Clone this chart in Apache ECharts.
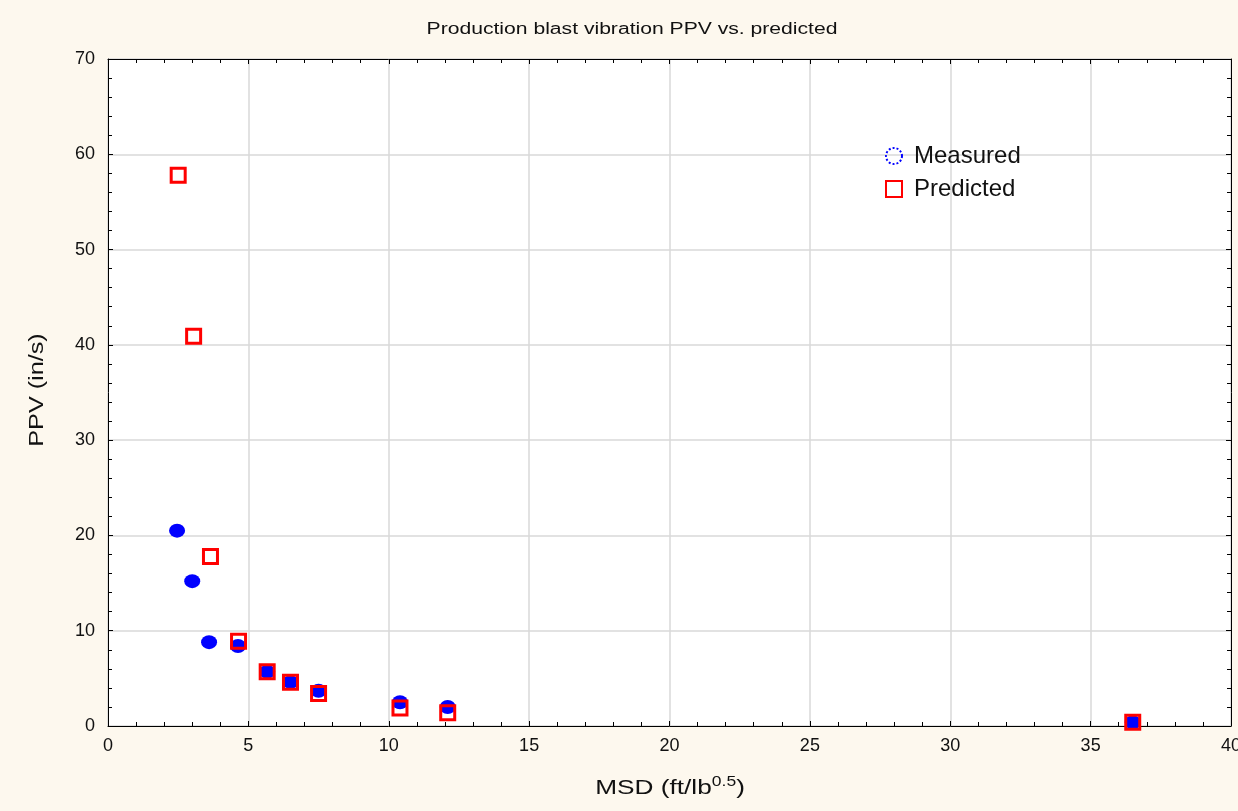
<!DOCTYPE html>
<html><head><meta charset="utf-8">
<script src="https://cdn.jsdelivr.net/npm/echarts@6/dist/echarts.min.js"></script>
<style>html,body{margin:0;padding:0;background:#fdf8ee;}#c{width:1238px;height:811px;}</style>
</head><body><div id="c"></div>
<script>
const titleText = 'Production blast vibration PPV vs. predicted';
const xAxisTitle = 'MSD (ft/lb';
const xAxisSup = '0.5';
const yAxisTitle = 'PPV (in/s)';
const msd = [2.46, 3.0, 3.6, 4.63, 5.67, 6.5, 7.5, 10.4, 12.1, 36.5];
const msdPred = [2.5, 3.05, 3.65, 4.65, 5.67, 6.5, 7.5, 10.4, 12.1, 36.5];
const measured = [20.5, 15.2, 8.8, 8.4, 5.7, 4.6, 3.7, 2.5, 2.0, 0.4];
const predicted = [57.8, 40.9, 17.8, 8.9, 5.7, 4.6, 3.4, 1.9, 1.4, 0.4];
const seriesNames = ['Measured', 'Predicted'];

const chart = echarts.init(document.getElementById('c'));
const txt = '#111';
const font = 'Liberation Sans, Arial, sans-serif';
const G = {left: 108, right: 7, top: 59, bottom: 85};

function axis(extra) {
  return Object.assign({type: 'value',
    axisLine: {show: true, onZero: false, lineStyle: {color: '#000', width: 1}},
    axisTick: {show: true, inside: true, length: 5, lineStyle: {color: '#000', width: 1}},
    minorTick: {show: true, splitNumber: 5, length: 4, lineStyle: {color: '#000', width: 1}}}, extra);
}

chart.setOption({
  backgroundColor: '#fdf8ee',
  animation: false,
  grid: {left: G.left, right: G.right, top: G.top, bottom: G.bottom, show: true, backgroundColor: '#fff', borderWidth: 0,
    containLabel: false, outerBoundsMode: 'none'},
  legend: {
    orient: 'vertical', left: 880, top: 139, itemGap: 9, itemWidth: 16, itemHeight: 16,
    textStyle: {fontSize: 24, color: txt, fontFamily: font, padding: [0, 0, 0, 7]},
    data: [
      {name: seriesNames[0], icon: 'circle', itemStyle: {color: 'transparent', borderColor: '#0000ff', borderWidth: 2, borderType: 'dotted'}},
      {name: seriesNames[1], icon: 'rect', itemStyle: {color: 'transparent', borderColor: '#ff0000', borderWidth: 2}}
    ]
  },
  graphic: [
    {type: 'text', x: 632, y: 30, scaleX: 1.32, z: 10,
      style: {text: titleText, fontSize: 16, fill: txt, fontFamily: font, align: 'center', verticalAlign: 'middle'}},
    {type: 'text', x: 670, y: 788, scaleX: 1.25, z: 10,
      style: {text: '{a|' + xAxisTitle + '}{s|' + xAxisSup + '}{a|)}', fill: txt, align: 'center', verticalAlign: 'middle',
        rich: {a: {fontSize: 21, fill: txt, fontFamily: font}, s: {fontSize: 14, fill: txt, fontFamily: font, padding: [0, 0, 12, 0]}}}},
    {type: 'text', x: 37, y: 390, rotation: Math.PI / 2, scaleX: 1.2, z: 10,
      style: {text: yAxisTitle, fontSize: 21, fill: txt, fontFamily: font, align: 'center', verticalAlign: 'middle'}}
  ],
  xAxis: [
    axis({min: 0, max: 40, interval: 5, position: 'bottom',
      axisLabel: {fontSize: 18, color: txt, fontFamily: font, margin: 11},
      splitLine: {show: true, lineStyle: {color: '#d9d9d9', width: 1.5}}}),
    axis({min: 0, max: 40, interval: 5, position: 'top', axisLabel: {show: false}, splitLine: {show: false}})
  ],
  yAxis: [
    axis({min: 0, max: 70, interval: 10, position: 'left',
      axisLabel: {fontSize: 18, color: txt, fontFamily: font, margin: 13},
      splitLine: {show: true, lineStyle: {color: '#d9d9d9', width: 1.5}}}),
    axis({min: 0, max: 70, interval: 10, position: 'right', axisLabel: {show: false}, splitLine: {show: false}})
  ],
  series: [
    {name: seriesNames[0], type: 'scatter', symbol: 'circle', symbolSize: [16, 14],
      itemStyle: {color: '#0000ff', opacity: 1},
      data: msd.map((x, i) => [x, measured[i]]), z: 2},
    {name: seriesNames[1], type: 'scatter', symbol: 'rect', symbolSize: 14,
      itemStyle: {color: 'rgba(0,0,0,0)', borderColor: '#ff0000', borderWidth: 3, opacity: 1},
      data: msdPred.map((x, i) => [x, predicted[i]]), z: 3}
  ]
});
</script></body></html>
